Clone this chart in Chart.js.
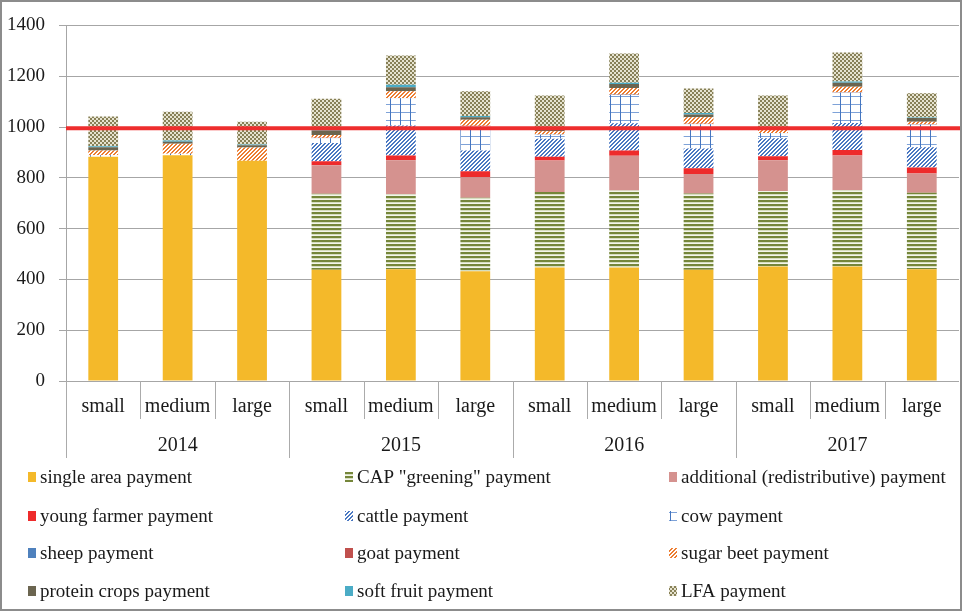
<!DOCTYPE html>
<html>
<head>
<meta charset="utf-8">
<script src="https://cdn.jsdelivr.net/npm/chart.js@4.4.1/dist/chart.umd.min.js"></script>
<style>
  html, body { margin: 0; padding: 0; background: #fff; }
  canvas { display: block; }
</style>
</head>
<body>
<canvas id="chart" width="962" height="611"></canvas>
<script>
// Farm size groups within each year
const sizeLabels = ['small', 'medium', 'large', 'small', 'medium', 'large',
                    'small', 'medium', 'large', 'small', 'medium', 'large'];
const yearLabels = ['2014', '2015', '2016', '2017'];

// Payments per farm (EUR/ha), in the order of sizeLabels
const singleArea     = [883, 889, 867, 438, 440, 432, 447, 447, 438, 451, 451, 440];
const greening       = [0, 0, 0, 299, 295, 289, 297, 303, 300, 297, 300, 301];
const redistributive = [0, 0, 0, 112, 134, 81, 124, 137, 77, 121, 137, 76];
const youngFarmer    = [0, 0, 0, 16, 19, 24, 15, 20, 23, 16, 21, 24];
const cattle         = [0, 0, 0, 72, 118, 81, 71, 108, 77, 71, 107, 79];
const cow            = [6, 6, 0, 19, 107, 96, 15, 111, 96, 19, 119, 89];
const sheep          = [0, 0, 0, 1, 1, 1, 1, 1, 1, 1, 1, 1];
const goat           = [0, 0, 0, 0.5, 0.5, 0.5, 0.5, 0.5, 0.5, 0.5, 0.5, 0.5];
const sugarBeet      = [18, 39, 52, 11, 26, 24, 13, 26, 26, 13, 22, 10];
const proteinCrops   = [13, 8, 9, 18, 16, 10, 11, 16, 11, 5, 16, 15];
const softFruit      = [4, 5, 3, 2, 10, 5, 2, 5, 6, 2, 5, 2];
const lfa            = [117, 113, 90, 123, 115, 97, 128, 115, 96, 128, 114, 95];

const referenceLevel = 995;

const SERIF = "'Liberation Serif', 'Times New Roman', serif";
const canvas = document.getElementById('chart');
const mainCtx = canvas.getContext('2d');

function makePattern(w, h, draw) {
  const c = document.createElement('canvas');
  c.width = w; c.height = h;
  const g = c.getContext('2d');
  g.fillStyle = '#ffffff';
  g.fillRect(0, 0, w, h);
  draw(g, w, h);
  return mainCtx.createPattern(c, 'repeat');
}

function diagonal(color) {
  return makePattern(4, 4, (g) => {
    g.fillStyle = color;
    for (let i = 0; i < 4; i++) {
      g.fillRect(i, 3 - i, 1, 1);
      g.fillRect((i + 1) % 4, 3 - i, 1, 1);
    }
  });
}

const fills = {
  greening: makePattern(4, 4, (g) => {
    g.fillStyle = '#75863a'; g.fillRect(0, 0, 4, 2);
    g.fillStyle = '#d6ddbf'; g.fillRect(0, 2, 4, 1);
    g.fillStyle = '#f3f5ea'; g.fillRect(0, 3, 4, 1);
  }),
  cattle: diagonal('#4a78c2'),
  cow: makePattern(10, 8, (g) => {
    g.fillStyle = '#7ea2d8'; g.fillRect(0, 0, 10, 1);
    g.fillStyle = '#4576c0'; g.fillRect(0, 0, 1, 8);
  }),
  sugarBeet: diagonal('#ed7d31'),
  lfa: makePattern(4, 4, (g) => {
    g.fillStyle = '#878057';
    g.fillRect(0, 0, 2, 2);
    g.fillRect(2, 2, 2, 2);
    g.fillStyle = '#e6e3d0';
    g.fillRect(2, 0, 2, 2);
    g.fillRect(0, 2, 2, 2);
  })
};

const series = [
  ['single area payment', singleArea, '#f4b92a'],
  ['CAP "greening" payment', greening, fills.greening],
  ['additional (redistributive) payment', redistributive, '#d5928f'],
  ['young farmer payment', youngFarmer, '#ee2b2b'],
  ['cattle payment', cattle, fills.cattle],
  ['cow payment', cow, fills.cow],
  ['sheep payment', sheep, '#4f81bd'],
  ['goat payment', goat, '#c0504d'],
  ['sugar beet payment', sugarBeet, fills.sugarBeet],
  ['protein crops payment', proteinCrops, '#6b6550'],
  ['soft fruit payment', softFruit, '#4bacc6'],
  ['LFA payment', lfa, fills.lfa]
];

// White page with a thin grey frame
const framePlugin = {
  id: 'frame',
  beforeDraw(chart) {
    const c = chart.ctx;
    c.save();
    c.fillStyle = '#ffffff';
    c.fillRect(0, 0, chart.width, chart.height);
    c.restore();
  },
  afterDraw(chart) {
    const c = chart.ctx;
    c.save();
    c.strokeStyle = '#8c8c8c';
    c.lineWidth = 2;
    c.strokeRect(1, 1, chart.width - 2, chart.height - 2);
    c.restore();
  }
};

// Vertical separators between size groups and between years
const separatorPlugin = {
  id: 'separators',
  afterDraw(chart) {
    const xs = chart.scales.x, x2 = chart.scales.x2;
    const n = sizeLabels.length;
    const c = chart.ctx;
    c.save();
    c.strokeStyle = '#ababab';
    c.lineWidth = 1;
    for (let i = 0; i < n; i++) {
      const px = i === 0 ? xs.left : (xs.getPixelForValue(i - 1) + xs.getPixelForValue(i)) / 2;
      const bottom = (i % 3 === 0) ? x2.bottom : xs.bottom - 1;
      const x = Math.round(px) + 0.5;
      c.beginPath();
      c.moveTo(x, chart.chartArea.bottom);
      c.lineTo(x, bottom);
      c.stroke();
    }
    c.restore();
  }
};

// Red reference line across the plot
const referencePlugin = {
  id: 'reference',
  afterDatasetsDraw(chart) {
    const y = chart.scales.y.getPixelForValue(referenceLevel);
    const c = chart.ctx;
    c.save();
    c.strokeStyle = '#ee2d2d';
    c.lineWidth = 4;
    c.beginPath();
    c.moveTo(chart.chartArea.left, y);
    c.lineTo(chart.width - 1, y);
    c.stroke();
    c.restore();
  }
};

// Three-column legend under the axes
const legendPlugin = {
  id: 'gridLegend',
  afterDraw(chart) {
    const c = chart.ctx;
    const colX = [28, 345, 669];
    const rowY = [477, 516, 553, 591];
    c.save();
    c.font = '19px ' + SERIF;
    c.textBaseline = 'middle';
    c.textAlign = 'left';
    chart.data.datasets.forEach((ds, i) => {
      const x = colX[i % 3], y = rowY[Math.floor(i / 3)];
      c.fillStyle = ds.backgroundColor;
      c.fillRect(x, y - 5, 8, 10);
      c.fillStyle = '#1a1a1a';
      c.fillText(ds.label, x + 12, y + 1);
    });
    c.restore();
  }
};

new Chart(canvas, {
  type: 'bar',
  data: {
    labels: sizeLabels,
    datasets: series.map(([label, data, color]) => ({
      label, data,
      backgroundColor: color,
      borderWidth: 0,
      barPercentage: 0.4,
      categoryPercentage: 1.0
    }))
  },
  options: {
    responsive: false,
    devicePixelRatio: 1,
    animation: false,
    layout: { padding: { top: 24, right: 3, bottom: 153, left: 0 } },
    plugins: {
      legend: { display: false },
      tooltip: { enabled: false }
    },
    scales: {
      x: {
        stacked: true,
        offset: true,
        grid: { display: false, drawTicks: false },
        border: { display: false },
        ticks: {
          font: { family: SERIF, size: 20 },
          color: '#1a1a1a',
          padding: 14,
          maxRotation: 0,
          autoSkip: false
        },
        afterFit(s) { s.height = 39; }
      },
      x2: {
        type: 'category',
        labels: yearLabels,
        position: 'bottom',
        weight: 1,
        offset: true,
        grid: { display: false, drawTicks: false },
        border: { display: false },
        ticks: {
          font: { family: SERIF, size: 20 },
          color: '#1a1a1a',
          padding: 14,
          maxRotation: 0,
          autoSkip: false
        },
        afterFit(s) { s.height = 38; }
      },
      y: {
        stacked: true,
        min: 0,
        max: 1400,
        ticks: {
          stepSize: 200,
          font: { family: SERIF, size: 19 },
          color: '#1a1a1a',
          padding: 14,
          callback: (v) => String(v)
        },
        grid: { color: '#a6a6a6', lineWidth: 1, tickLength: 7 },
        border: { display: true, color: '#a6a6a6' },
        afterFit(s) { s.width = 66; }
      }
    }
  },
  plugins: [framePlugin, separatorPlugin, referencePlugin, legendPlugin]
});
</script>
</body>
</html>
